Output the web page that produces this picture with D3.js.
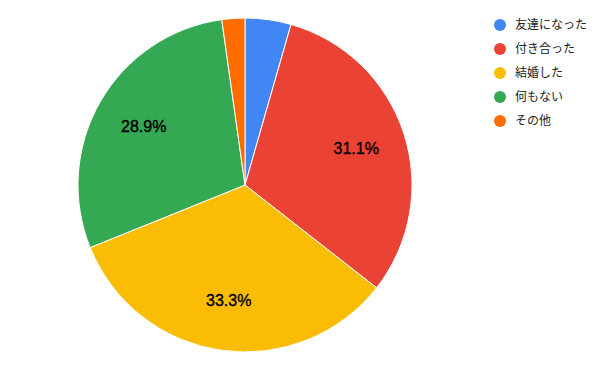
<!DOCTYPE html>
<html>
<head>
<meta charset="utf-8">
<script src="https://cdn.jsdelivr.net/npm/d3@7"></script>
<style>
  body { margin: 0; background: #fff; }
  text { font-family: Arial, "Liberation Sans", "Noto Sans CJK JP", sans-serif; }
</style>
</head>
<body>
<div id="chart"></div>
<script>
const categories = ['友達になった', '付き合った', '結婚した', '何もない', 'その他'];
const counts = [2, 14, 15, 13, 1];
const colors = ['#4285F4', '#EA4335', '#FBBC04', '#34A853', '#FF6D01'];

const width = 600;
const height = 371;
const cx = 245, cy = 185, radius = 167;

const svg = d3.select('#chart')
  .append('svg')
  .attr('width', width)
  .attr('height', height);

const total = d3.sum(counts);
const pie = d3.pie().sort(null).value(d => d.value);
const data = pie(categories.map((c, i) => ({ name: c, value: counts[i], color: colors[i] })));

const arc = d3.arc().innerRadius(0).outerRadius(radius);
const labelArc = d3.arc().innerRadius(radius * 0.7).outerRadius(radius * 0.7);

const graph = svg.append('g')
  .attr('transform', `translate(${cx}, ${cy})`);

graph.selectAll('path')
  .data(data)
  .enter()
  .append('path')
  .attr('d', arc)
  .attr('fill', d => d.data.color)
  .attr('stroke', '#fff')
  .attr('stroke-width', 1);

// only label slices big enough
graph.selectAll('text.label')
  .data(data.filter(d => d.data.value / total > 0.1))
  .enter()
  .append('text')
  .attr('class', 'label')
  .attr('transform', d => `translate(${labelArc.centroid(d)})`)
  .attr('text-anchor', 'middle')
  .attr('dy', '0.35em')
  .attr('font-size', 16)
  .attr('fill', '#000')
  .attr('stroke', '#000')
  .attr('stroke-width', 0.35)
  .text(d => (d.data.value / total * 100).toFixed(1) + '%');

const legend = svg.append('g')
  .attr('transform', 'translate(500, 25)');

const items = legend.selectAll('g')
  .data(categories)
  .enter()
  .append('g')
  .attr('transform', (d, i) => `translate(0, ${i * 24})`);

items.append('circle')
  .attr('r', 6)
  .attr('fill', (d, i) => colors[i]);

items.append('text')
  .attr('x', 15)
  .attr('dy', '0.35em')
  .attr('font-size', 12)
  .attr('fill', '#222')
  .text(d => d);
</script>
</body>
</html>
